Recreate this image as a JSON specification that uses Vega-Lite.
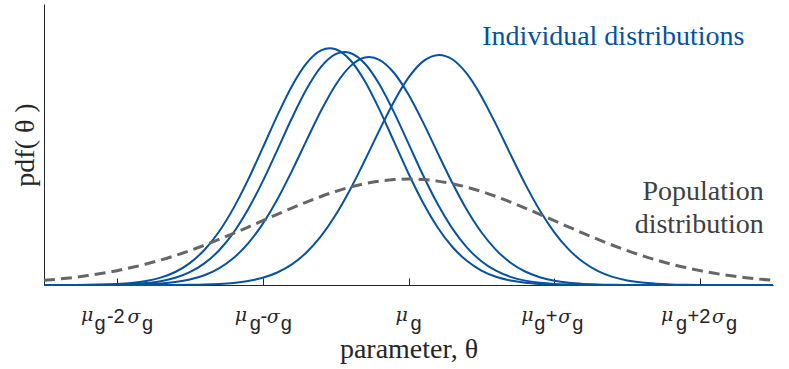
{
  "$schema": "https://vega.github.io/schema/vega-lite/v6.json",
  "width": 729,
  "height": 281,
  "autosize": "none",
  "padding": {"left": 44, "top": 4, "right": 16, "bottom": 84},
  "background": "white",
  "config": {"view": {"stroke": null}, "axis": {"grid": false}},
  "datasets": {
    "indiv": [
      {"c":1,"x":-2.5,"y":0},{"c":1,"x":-2.4,"y":0.0001},{"c":1,"x":-2.3,"y":0.0003},{"c":1,"x":-2.2,"y":0.0007},{"c":1,"x":-2.1,"y":0.0017},{"c":1,"x":-2.0,"y":0.0036},{"c":1,"x":-1.9,"y":0.0075},{"c":1,"x":-1.8,"y":0.0148},{"c":1,"x":-1.7,"y":0.0276},{"c":1,"x":-1.6,"y":0.049},{"c":1,"x":-1.5,"y":0.0825},{"c":1,"x":-1.4,"y":0.1319},{"c":1,"x":-1.3,"y":0.2004},{"c":1,"x":-1.2,"y":0.2893},{"c":1,"x":-1.1,"y":0.3964},{"c":1,"x":-1.0,"y":0.5159},{"c":1,"x":-0.9,"y":0.6376},{"c":1,"x":-0.8,"y":0.7483},{"c":1,"x":-0.7,"y":0.834},{"c":1,"x":-0.6,"y":0.8827},{"c":1,"x":-0.54,"y":0.891},{"c":1,"x":-0.5,"y":0.8873},{"c":1,"x":-0.4,"y":0.847},{"c":1,"x":-0.3,"y":0.7678},{"c":1,"x":-0.2,"y":0.661},{"c":1,"x":-0.1,"y":0.5404},{"c":1,"x":0,"y":0.4196},{"c":1,"x":0.1,"y":0.3094},{"c":1,"x":0.2,"y":0.2166},{"c":1,"x":0.3,"y":0.144},{"c":1,"x":0.4,"y":0.0909},{"c":1,"x":0.5,"y":0.0545},{"c":1,"x":0.6,"y":0.0311},{"c":1,"x":0.7,"y":0.0168},{"c":1,"x":0.8,"y":0.0086},{"c":1,"x":0.9,"y":0.0042},{"c":1,"x":1.0,"y":0.002},{"c":1,"x":1.1,"y":0.0009},{"c":1,"x":1.2,"y":0.0004},{"c":1,"x":1.3,"y":0.0001},{"c":1,"x":1.4,"y":0},{"c":1,"x":2.5,"y":0},
      {"c":2,"x":-2.5,"y":0},{"c":2,"x":-2.4,"y":0.0001},{"c":2,"x":-2.3,"y":0.0001},{"c":2,"x":-2.2,"y":0.0003},{"c":2,"x":-2.1,"y":0.0007},{"c":2,"x":-2.0,"y":0.0016},{"c":2,"x":-1.9,"y":0.0036},{"c":2,"x":-1.8,"y":0.0074},{"c":2,"x":-1.7,"y":0.0145},{"c":2,"x":-1.6,"y":0.0272},{"c":2,"x":-1.5,"y":0.0482},{"c":2,"x":-1.4,"y":0.0812},{"c":2,"x":-1.3,"y":0.1298},{"c":2,"x":-1.2,"y":0.1973},{"c":2,"x":-1.1,"y":0.2847},{"c":2,"x":-1.0,"y":0.3902},{"c":2,"x":-0.9,"y":0.5078},{"c":2,"x":-0.8,"y":0.6276},{"c":2,"x":-0.7,"y":0.7365},{"c":2,"x":-0.6,"y":0.8209},{"c":2,"x":-0.5,"y":0.8689},{"c":2,"x":-0.44,"y":0.877},{"c":2,"x":-0.4,"y":0.8734},{"c":2,"x":-0.3,"y":0.8337},{"c":2,"x":-0.2,"y":0.7558},{"c":2,"x":-0.1,"y":0.6506},{"c":2,"x":0,"y":0.5319},{"c":2,"x":0.1,"y":0.413},{"c":2,"x":0.2,"y":0.3045},{"c":2,"x":0.3,"y":0.2132},{"c":2,"x":0.4,"y":0.1418},{"c":2,"x":0.5,"y":0.0895},{"c":2,"x":0.6,"y":0.0537},{"c":2,"x":0.7,"y":0.0306},{"c":2,"x":0.8,"y":0.0165},{"c":2,"x":0.9,"y":0.0085},{"c":2,"x":1.0,"y":0.0041},{"c":2,"x":1.1,"y":0.0019},{"c":2,"x":1.2,"y":0.0008},{"c":2,"x":1.3,"y":0.0004},{"c":2,"x":1.4,"y":0.0001},{"c":2,"x":1.5,"y":0},{"c":2,"x":2.5,"y":0},
      {"c":3,"x":-2.5,"y":0},{"c":3,"x":-2.3,"y":0},{"c":3,"x":-2.2,"y":0.0001},{"c":3,"x":-2.1,"y":0.0002},{"c":3,"x":-2.0,"y":0.0005},{"c":3,"x":-1.9,"y":0.0012},{"c":3,"x":-1.8,"y":0.0027},{"c":3,"x":-1.7,"y":0.0055},{"c":3,"x":-1.6,"y":0.0109},{"c":3,"x":-1.5,"y":0.0205},{"c":3,"x":-1.4,"y":0.0367},{"c":3,"x":-1.3,"y":0.0625},{"c":3,"x":-1.2,"y":0.1014},{"c":3,"x":-1.1,"y":0.1566},{"c":3,"x":-1.0,"y":0.2302},{"c":3,"x":-0.9,"y":0.322},{"c":3,"x":-0.8,"y":0.4288},{"c":3,"x":-0.7,"y":0.5435},{"c":3,"x":-0.6,"y":0.6557},{"c":3,"x":-0.5,"y":0.7529},{"c":3,"x":-0.4,"y":0.8229},{"c":3,"x":-0.3,"y":0.8561},{"c":3,"x":-0.27,"y":0.858},{"c":3,"x":-0.2,"y":0.8477},{"c":3,"x":-0.1,"y":0.7989},{"c":3,"x":0,"y":0.7167},{"c":3,"x":0.1,"y":0.6119},{"c":3,"x":0.2,"y":0.4973},{"c":3,"x":0.3,"y":0.3847},{"c":3,"x":0.4,"y":0.2832},{"c":3,"x":0.5,"y":0.1985},{"c":3,"x":0.6,"y":0.1324},{"c":3,"x":0.7,"y":0.084},{"c":3,"x":0.8,"y":0.0508},{"c":3,"x":0.9,"y":0.0292},{"c":3,"x":1.0,"y":0.016},{"c":3,"x":1.1,"y":0.0083},{"c":3,"x":1.2,"y":0.0041},{"c":3,"x":1.3,"y":0.0019},{"c":3,"x":1.4,"y":0.0009},{"c":3,"x":1.5,"y":0.0004},{"c":3,"x":1.6,"y":0.0002},{"c":3,"x":1.7,"y":0.0001},{"c":3,"x":1.8,"y":0},{"c":3,"x":2.5,"y":0},
      {"c":4,"x":-2.5,"y":0},{"c":4,"x":-1.9,"y":0},{"c":4,"x":-1.8,"y":0.0001},{"c":4,"x":-1.7,"y":0.0002},{"c":4,"x":-1.6,"y":0.0004},{"c":4,"x":-1.5,"y":0.0009},{"c":4,"x":-1.4,"y":0.0019},{"c":4,"x":-1.3,"y":0.004},{"c":4,"x":-1.2,"y":0.0079},{"c":4,"x":-1.1,"y":0.015},{"c":4,"x":-1.0,"y":0.0272},{"c":4,"x":-0.9,"y":0.0471},{"c":4,"x":-0.8,"y":0.0777},{"c":4,"x":-0.7,"y":0.1224},{"c":4,"x":-0.6,"y":0.1837},{"c":4,"x":-0.5,"y":0.2632},{"c":4,"x":-0.4,"y":0.3595},{"c":4,"x":-0.3,"y":0.4684},{"c":4,"x":-0.2,"y":0.5821},{"c":4,"x":-0.1,"y":0.6901},{"c":4,"x":0,"y":0.7803},{"c":4,"x":0.1,"y":0.8416},{"c":4,"x":0.21,"y":0.866},{"c":4,"x":0.3,"y":0.8496},{"c":4,"x":0.4,"y":0.7952},{"c":4,"x":0.5,"y":0.7099},{"c":4,"x":0.6,"y":0.6046},{"c":4,"x":0.7,"y":0.4911},{"c":4,"x":0.8,"y":0.3805},{"c":4,"x":0.9,"y":0.2811},{"c":4,"x":1.0,"y":0.1982},{"c":4,"x":1.1,"y":0.1332},{"c":4,"x":1.2,"y":0.0855},{"c":4,"x":1.3,"y":0.0523},{"c":4,"x":1.4,"y":0.0305},{"c":4,"x":1.5,"y":0.017},{"c":4,"x":1.6,"y":0.009},{"c":4,"x":1.7,"y":0.0046},{"c":4,"x":1.8,"y":0.0022},{"c":4,"x":1.9,"y":0.001},{"c":4,"x":2.0,"y":0.0004},{"c":4,"x":2.1,"y":0.0002},{"c":4,"x":2.2,"y":0.0001},{"c":4,"x":2.3,"y":0},{"c":4,"x":2.5,"y":0}
    ],
    "pop": [
      {"x":-2.5,"y":0.0175},{"x":-2.4,"y":0.0224},{"x":-2.3,"y":0.0283},{"x":-2.2,"y":0.0355},{"x":-2.1,"y":0.044},{"x":-2.0,"y":0.054},{"x":-1.9,"y":0.0656},{"x":-1.8,"y":0.079},{"x":-1.7,"y":0.094},{"x":-1.6,"y":0.1109},{"x":-1.5,"y":0.1295},{"x":-1.4,"y":0.1497},{"x":-1.3,"y":0.1714},{"x":-1.2,"y":0.1942},{"x":-1.1,"y":0.2179},{"x":-1.0,"y":0.242},{"x":-0.9,"y":0.2661},{"x":-0.8,"y":0.2897},{"x":-0.7,"y":0.3123},{"x":-0.6,"y":0.3332},{"x":-0.5,"y":0.3521},{"x":-0.4,"y":0.3683},{"x":-0.3,"y":0.3814},{"x":-0.2,"y":0.391},{"x":-0.1,"y":0.3969},{"x":0,"y":0.3989},
      {"x":0.1,"y":0.3969},{"x":0.2,"y":0.391},{"x":0.3,"y":0.3814},{"x":0.4,"y":0.3683},{"x":0.5,"y":0.3521},{"x":0.6,"y":0.3332},{"x":0.7,"y":0.3123},{"x":0.8,"y":0.2897},{"x":0.9,"y":0.2661},{"x":1.0,"y":0.242},{"x":1.1,"y":0.2179},{"x":1.2,"y":0.1942},{"x":1.3,"y":0.1714},{"x":1.4,"y":0.1497},{"x":1.5,"y":0.1295},{"x":1.6,"y":0.1109},{"x":1.7,"y":0.094},{"x":1.8,"y":0.079},{"x":1.9,"y":0.0656},{"x":2.0,"y":0.054},{"x":2.1,"y":0.044},{"x":2.2,"y":0.0355},{"x":2.3,"y":0.0283},{"x":2.4,"y":0.0224},{"x":2.5,"y":0.0175}
    ],
    "ticklabels": [
      {"v":-2,"mu":"μ","g":"g","op":"-2","sig":"σ","g2":"g"},
      {"v":-1,"mu":"μ","g":"g","op":"-","sig":"σ","g2":"g"},
      {"v":0,"mu":"μ","g":"g","op":"","sig":"","g2":""},
      {"v":1,"mu":"μ","g":"g","op":"+","sig":"σ","g2":"g"},
      {"v":2,"mu":"μ","g":"g","op":"+2","sig":"σ","g2":"g"}
    ],
    "notes": [
      {"x":0.506,"y":0.903,"label":"Individual distributions","kind":"indiv"},
      {"x":2.437,"y":0.32,"label":"Population\ndistribution","kind":"pop"}
    ]
  },
  "layer": [
    {
      "data": {"name": "indiv"},
      "mark": {"type": "line", "interpolate": "monotone", "strokeWidth": 2, "color": "#0652a0"},
      "encoding": {
        "x": {"field": "x", "type": "quantitative", "scale": {"domain": [-2.5, 2.5], "nice": false, "zero": false},
          "axis": {"title": "parameter, θ", "labels": false, "values": [-2, -1, 0, 1, 2], "tickSize": -7, "tickColor": "#262626", "domainColor": "#262626", "titleFont": "Liberation Serif", "titleFontSize": 28, "titleFontWeight": "normal", "titleColor": "#262626", "titleBaseline": "alphabetic", "titleY": 72}},
        "y": {"field": "y", "type": "quantitative", "scale": {"domain": [0, 1.0576], "nice": false, "zero": true},
          "axis": {"title": "pdf( θ )", "labels": false, "ticks": false, "domainColor": "#262626", "titleFont": "Liberation Serif", "titleFontSize": 28, "titleFontWeight": "normal", "titleColor": "#262626", "titleBaseline": "alphabetic", "titleX": -11}},
        "detail": {"field": "c", "type": "nominal"}
      }
    },
    {
      "data": {"name": "pop"},
      "mark": {"type": "line", "interpolate": "monotone", "strokeWidth": 3, "strokeDash": [11, 6], "color": "#666666"},
      "encoding": {
        "x": {"field": "x", "type": "quantitative"},
        "y": {"field": "y", "type": "quantitative"}
      }
    },
    {
      "data": {"name": "ticklabels"},
      "mark": {"type": "text", "align": "left", "baseline": "alphabetic", "font": "DejaVu Serif", "fontStyle": "italic", "fontSize": 19, "color": "#262626", "dy": 36,
        "dx": {"expr": "datum.v==-2?-36:datum.v==-1?-28:datum.v==0?-13:datum.v==1?-33:-39"}},
      "encoding": {"x": {"field": "v", "type": "quantitative"}, "y": {"datum": 0}, "text": {"field": "mu"}}
    },
    {
      "data": {"name": "ticklabels"},
      "mark": {"type": "text", "align": "left", "baseline": "alphabetic", "font": "Liberation Sans", "fontSize": 20, "color": "#262626", "dy": 45,
        "dx": {"expr": "datum.v==-2?-22.5:datum.v==-1?-13:datum.v==0?2:datum.v==1?-20:-24"}},
      "encoding": {"x": {"field": "v", "type": "quantitative"}, "y": {"datum": 0}, "text": {"field": "g"}}
    },
    {
      "data": {"name": "ticklabels"},
      "mark": {"type": "text", "align": "left", "baseline": "alphabetic", "font": "Liberation Sans", "fontSize": 20, "color": "#262626", "dy": 38,
        "dx": {"expr": "datum.v==-2?-10:datum.v==-1?-2.3:datum.v==1?-8.5:-12.5"}},
      "encoding": {"x": {"field": "v", "type": "quantitative"}, "y": {"datum": 0}, "text": {"field": "op"}}
    },
    {
      "data": {"name": "ticklabels"},
      "mark": {"type": "text", "align": "left", "baseline": "alphabetic", "font": "DejaVu Serif", "fontStyle": "italic", "fontSize": 19, "color": "#262626", "dy": 38,
        "dx": {"expr": "datum.v==-2?10.5:datum.v==-1?4:datum.v==1?4:12"}},
      "encoding": {"x": {"field": "v", "type": "quantitative"}, "y": {"datum": 0}, "text": {"field": "sig"}}
    },
    {
      "data": {"name": "ticklabels"},
      "mark": {"type": "text", "align": "left", "baseline": "alphabetic", "font": "Liberation Sans", "fontSize": 20, "color": "#262626", "dy": 45,
        "dx": {"expr": "datum.v==-2?25:datum.v==-1?18:datum.v==1?18:26"}},
      "encoding": {"x": {"field": "v", "type": "quantitative"}, "y": {"datum": 0}, "text": {"field": "g2"}}
    },
    {
      "data": {"name": "notes"},
      "transform": [{"filter": "datum.kind == 'indiv'"}],
      "mark": {"type": "text", "align": "left", "baseline": "alphabetic", "font": "Liberation Serif", "fontSize": 28, "color": "#0652a0"},
      "encoding": {"x": {"field": "x", "type": "quantitative"}, "y": {"field": "y", "type": "quantitative"}, "text": {"field": "label"}}
    },
    {
      "data": {"name": "notes"},
      "transform": [{"filter": "datum.kind == 'pop'"}],
      "mark": {"type": "text", "align": "right", "baseline": "alphabetic", "font": "Liberation Serif", "fontSize": 28, "color": "#404040", "lineBreak": "\n", "lineHeight": 33},
      "encoding": {"x": {"field": "x", "type": "quantitative"}, "y": {"field": "y", "type": "quantitative"}, "text": {"field": "label"}}
    }
  ]
}
